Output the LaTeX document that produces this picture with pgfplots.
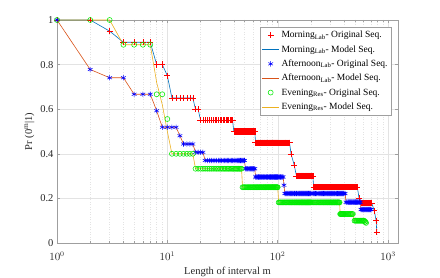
\documentclass[border=0pt]{standalone}
\usepackage{pgfplots}
\pgfplotsset{compat=1.18}
\usepackage{pgfplotstable}
\usepackage{fontspec}
\setmainfont{Liberation Serif}
\definecolor{mlblue}{RGB}{0,114,189}
\definecolor{mlorange}{RGB}{217,83,25}
\definecolor{mlyellow}{RGB}{237,177,32}
\definecolor{mkgreen}{RGB}{0,235,0}

\pgfplotstableread[row sep=\\]{
m p\\
1 1\\ 2 1\\ 3 0.95\\ 4 0.9\\ 5 0.9\\ 6 0.9\\ 7 0.9\\ 8 0.8\\ 9 0.8\\ 10 0.75\\
11 0.65\\ 12 0.65\\ 13 0.65\\ 14 0.65\\ 15 0.65\\ 16 0.65\\ 17 0.65\\ 18 0.6\\ 19 0.6\\
20 0.55\\ 21 0.55\\ 22 0.55\\ 23 0.55\\ 24 0.55\\ 25 0.55\\ 26 0.55\\ 27 0.55\\ 28 0.55\\ 29 0.55\\
30 0.55\\ 31 0.55\\ 32 0.55\\ 33 0.55\\ 34 0.55\\ 35 0.55\\ 36 0.55\\ 37 0.55\\ 38 0.55\\ 39 0.55\\
40 0.5\\ 41 0.5\\ 42 0.5\\ 43 0.5\\ 44 0.5\\ 45 0.5\\ 46 0.5\\ 47 0.5\\ 48 0.5\\ 49 0.5\\ 50 0.5\\
51 0.5\\ 52 0.5\\ 53 0.5\\ 54 0.5\\ 55 0.5\\ 56 0.5\\ 57 0.5\\ 58 0.5\\ 59 0.5\\ 60 0.5\\ 61 0.5\\ 62 0.5\\
63 0.45\\ 64 0.45\\ 65 0.45\\ 66 0.45\\ 67 0.45\\ 68 0.45\\ 69 0.45\\ 70 0.45\\ 71 0.45\\ 72 0.45\\
73 0.45\\ 74 0.45\\ 75 0.45\\ 76 0.45\\ 77 0.45\\ 78 0.45\\ 79 0.45\\ 80 0.45\\ 81 0.45\\ 82 0.45\\
83 0.45\\ 84 0.45\\ 85 0.45\\ 86 0.45\\ 87 0.45\\ 88 0.45\\ 89 0.45\\ 90 0.45\\ 91 0.45\\ 92 0.45\\
93 0.45\\ 94 0.45\\ 95 0.45\\ 96 0.45\\ 97 0.45\\ 98 0.45\\ 99 0.45\\ 100 0.45\\
102 0.45\\ 104 0.45\\ 106 0.45\\ 108 0.45\\ 110 0.45\\ 112 0.45\\ 114 0.45\\ 116 0.45\\ 118 0.45\\
120 0.45\\ 122 0.45\\ 124 0.45\\ 126 0.45\\ 128 0.45\\
132 0.4\\ 141 0.35\\
148 0.3\\ 150 0.3\\ 152 0.3\\ 154 0.3\\ 156 0.3\\ 158 0.3\\ 160 0.3\\ 162 0.3\\ 164 0.3\\ 166 0.3\\
168 0.3\\ 170 0.3\\ 172 0.3\\ 174 0.3\\ 176 0.3\\ 178 0.3\\ 180 0.3\\ 182 0.3\\ 184 0.3\\ 186 0.3\\
188 0.3\\ 190 0.3\\ 192 0.3\\ 194 0.3\\ 196 0.3\\ 198 0.3\\ 200 0.3\\ 204 0.3\\ 208 0.3\\
212 0.25\\ 216 0.25\\ 220 0.25\\ 224 0.25\\ 228 0.25\\ 232 0.25\\ 236 0.25\\ 240 0.25\\ 244 0.25\\
248 0.25\\ 252 0.25\\ 256 0.25\\ 260 0.25\\ 264 0.25\\ 268 0.25\\ 272 0.25\\ 276 0.25\\ 280 0.25\\
284 0.25\\ 288 0.25\\ 292 0.25\\ 296 0.25\\ 300 0.25\\ 304 0.25\\ 308 0.25\\ 312 0.25\\ 316 0.25\\
320 0.25\\ 324 0.25\\ 328 0.25\\ 332 0.25\\ 336 0.25\\ 340 0.25\\ 344 0.25\\ 348 0.25\\ 352 0.25\\
356 0.25\\ 360 0.25\\ 364 0.25\\ 368 0.25\\ 372 0.25\\ 376 0.25\\ 380 0.25\\ 384 0.25\\ 388 0.25\\
392 0.25\\ 396 0.25\\ 400 0.25\\ 408 0.25\\ 416 0.25\\ 424 0.25\\ 432 0.25\\ 440 0.25\\ 448 0.25\\
456 0.25\\ 464 0.25\\ 472 0.25\\ 480 0.25\\ 488 0.25\\ 496 0.25\\ 504 0.25\\ 512 0.25\\ 520 0.25\\ 527 0.25\\
546 0.2\\
576 0.18\\ 584 0.18\\ 592 0.18\\ 600 0.18\\ 608 0.18\\ 616 0.18\\ 624 0.18\\ 632 0.18\\ 640 0.18\\
648 0.18\\ 656 0.18\\ 664 0.18\\ 672 0.18\\ 680 0.18\\ 688 0.18\\ 696 0.18\\ 704 0.18\\ 710 0.18\\
750 0.145\\ 780 0.1\\ 790 0.05\\
}\morning

\pgfplotstableread[row sep=\\]{
m p\\
1 1\\ 2 0.778\\ 3 0.741\\ 4 0.741\\ 5 0.667\\ 6 0.667\\ 7 0.667\\ 8 0.593\\
9 0.519\\ 10 0.519\\ 11 0.519\\ 12 0.519\\ 13 0.481\\
14 0.444\\ 15 0.444\\ 16 0.444\\ 17 0.444\\ 18 0.407\\ 19 0.407\\ 20 0.407\\ 21 0.407\\
22 0.37\\ 23 0.37\\ 24 0.37\\ 25 0.37\\ 26 0.37\\ 27 0.37\\ 28 0.37\\ 29 0.37\\ 30 0.37\\
31 0.37\\ 32 0.37\\ 33 0.37\\ 34 0.37\\ 35 0.37\\ 36 0.37\\ 37 0.37\\ 38 0.37\\ 39 0.37\\ 40 0.37\\
41 0.37\\ 42 0.37\\ 43 0.37\\ 44 0.37\\ 45 0.37\\ 46 0.37\\ 47 0.37\\ 48 0.37\\ 49 0.37\\ 50 0.37\\
51 0.333\\ 52 0.333\\ 53 0.333\\ 54 0.333\\ 55 0.333\\ 56 0.333\\ 57 0.333\\ 58 0.333\\ 59 0.333\\
60 0.333\\ 61 0.333\\ 62 0.333\\
63 0.296\\ 64 0.296\\ 65 0.296\\ 66 0.296\\ 67 0.296\\ 68 0.296\\ 69 0.296\\ 70 0.296\\ 71 0.296\\
72 0.296\\ 73 0.296\\ 74 0.296\\ 75 0.296\\ 76 0.296\\ 77 0.296\\ 78 0.296\\ 79 0.296\\ 80 0.296\\
81 0.296\\ 82 0.296\\ 83 0.296\\ 84 0.296\\ 85 0.296\\ 86 0.296\\ 87 0.296\\ 88 0.296\\ 89 0.296\\
90 0.296\\ 91 0.296\\ 92 0.296\\ 93 0.296\\ 94 0.296\\ 95 0.296\\ 96 0.296\\ 97 0.296\\ 98 0.296\\
99 0.296\\ 100 0.296\\ 102 0.296\\ 104 0.296\\ 106 0.296\\ 108 0.296\\ 110 0.296\\ 112 0.296\\
114 0.259\\
116 0.222\\ 118 0.222\\ 120 0.222\\ 122 0.222\\ 124 0.222\\ 126 0.222\\ 128 0.222\\ 130 0.222\\
132 0.222\\ 134 0.222\\ 136 0.222\\ 138 0.222\\ 140 0.222\\ 142 0.222\\ 144 0.222\\ 146 0.222\\
148 0.222\\ 150 0.222\\ 152 0.222\\ 154 0.222\\ 156 0.222\\ 158 0.222\\ 160 0.222\\ 162 0.222\\
164 0.222\\ 166 0.222\\ 168 0.222\\ 170 0.222\\ 172 0.222\\ 174 0.222\\ 176 0.222\\ 178 0.222\\
180 0.222\\ 182 0.222\\ 184 0.222\\ 186 0.222\\ 188 0.222\\ 190 0.222\\ 192 0.222\\ 194 0.222\\
196 0.222\\ 198 0.222\\ 200 0.222\\ 204 0.222\\ 208 0.222\\ 212 0.222\\ 216 0.222\\ 220 0.222\\
224 0.222\\ 228 0.222\\ 232 0.222\\ 236 0.222\\ 240 0.222\\ 244 0.222\\ 248 0.222\\ 252 0.222\\
256 0.222\\ 260 0.222\\ 264 0.222\\ 268 0.222\\ 272 0.222\\ 276 0.222\\ 280 0.222\\ 284 0.222\\
288 0.222\\ 292 0.222\\ 296 0.222\\ 300 0.222\\ 304 0.222\\ 308 0.222\\ 312 0.222\\ 316 0.222\\
320 0.222\\ 324 0.222\\ 328 0.222\\ 332 0.222\\ 336 0.222\\ 340 0.222\\ 344 0.222\\ 348 0.222\\
352 0.222\\ 356 0.222\\ 360 0.222\\ 364 0.222\\ 368 0.222\\ 372 0.222\\ 376 0.222\\ 380 0.222\\
384 0.222\\ 388 0.222\\ 392 0.222\\ 396 0.222\\ 400 0.222\\ 408 0.222\\
416 0.183\\ 424 0.183\\ 432 0.183\\ 440 0.183\\ 448 0.183\\ 456 0.183\\ 464 0.183\\ 472 0.183\\
480 0.183\\ 488 0.183\\ 496 0.183\\ 504 0.183\\ 512 0.183\\ 520 0.183\\ 528 0.183\\ 536 0.183\\
544 0.183\\ 552 0.183\\ 560 0.183\\
568 0.15\\ 576 0.15\\ 584 0.15\\ 592 0.15\\ 600 0.15\\ 608 0.15\\ 616 0.15\\ 624 0.15\\ 632 0.15\\
640 0.15\\ 648 0.15\\ 656 0.15\\ 664 0.15\\ 672 0.15\\ 680 0.15\\ 688 0.15\\ 696 0.15\\ 700 0.15\\
}\afternoon

\pgfplotstableread[row sep=\\]{
m p\\
1 1\\ 2 1\\ 3 1\\ 4 0.889\\ 5 0.889\\ 6 0.889\\ 7 0.889\\ 8 0.667\\ 9 0.667\\ 10 0.556\\
11 0.4\\ 12 0.4\\ 13 0.4\\ 14 0.4\\ 15 0.4\\ 16 0.4\\ 17 0.4\\
18 0.333\\ 19 0.333\\ 20 0.333\\ 21 0.333\\ 22 0.333\\ 23 0.333\\ 24 0.333\\ 25 0.333\\ 26 0.333\\
27 0.333\\ 28 0.333\\ 29 0.333\\ 30 0.333\\ 31 0.333\\ 32 0.333\\ 33 0.333\\ 34 0.333\\ 35 0.333\\
36 0.333\\ 37 0.333\\ 38 0.333\\ 39 0.333\\ 40 0.333\\ 41 0.333\\ 42 0.333\\ 43 0.333\\ 44 0.333\\
45 0.333\\ 46 0.333\\ 47 0.333\\
48 0.25\\ 49 0.25\\ 50 0.25\\ 51 0.25\\ 52 0.25\\ 53 0.25\\ 54 0.25\\ 55 0.25\\ 56 0.25\\ 57 0.25\\
58 0.25\\ 59 0.25\\ 60 0.25\\ 61 0.25\\ 62 0.25\\ 63 0.25\\ 64 0.25\\ 65 0.25\\ 66 0.25\\ 67 0.25\\
68 0.25\\ 69 0.25\\ 70 0.25\\ 71 0.25\\ 72 0.25\\ 73 0.25\\ 74 0.25\\ 75 0.25\\ 76 0.25\\ 77 0.25\\
78 0.25\\ 79 0.25\\ 80 0.25\\ 81 0.25\\ 82 0.25\\ 83 0.25\\ 84 0.25\\ 85 0.25\\ 86 0.25\\ 87 0.25\\
88 0.25\\ 89 0.25\\ 90 0.25\\ 91 0.25\\ 92 0.25\\ 93 0.25\\ 94 0.25\\ 95 0.25\\ 96 0.25\\ 97 0.25\\
98 0.25\\ 99 0.25\\ 100 0.25\\
102 0.182\\ 104 0.182\\ 106 0.182\\ 108 0.182\\ 110 0.182\\ 112 0.182\\ 114 0.182\\ 116 0.182\\
118 0.182\\ 120 0.182\\ 122 0.182\\ 124 0.182\\ 126 0.182\\ 128 0.182\\ 130 0.182\\ 132 0.182\\
134 0.182\\ 136 0.182\\ 138 0.182\\ 140 0.182\\ 142 0.182\\ 144 0.182\\ 146 0.182\\ 148 0.182\\
150 0.182\\ 152 0.182\\ 154 0.182\\ 156 0.182\\ 158 0.182\\ 160 0.182\\ 162 0.182\\ 164 0.182\\
166 0.182\\ 168 0.182\\ 170 0.182\\ 172 0.182\\ 174 0.182\\ 176 0.182\\ 178 0.182\\ 180 0.182\\
182 0.182\\ 184 0.182\\ 186 0.182\\ 188 0.182\\ 190 0.182\\ 192 0.182\\ 194 0.182\\ 196 0.182\\
198 0.182\\ 200 0.182\\ 204 0.182\\ 208 0.182\\ 212 0.182\\ 216 0.182\\ 220 0.182\\ 224 0.182\\
228 0.182\\ 232 0.182\\ 236 0.182\\ 240 0.182\\ 244 0.182\\ 248 0.182\\ 252 0.182\\ 256 0.182\\
260 0.182\\ 264 0.182\\ 268 0.182\\ 272 0.182\\ 276 0.182\\ 280 0.182\\ 284 0.182\\ 288 0.182\\
292 0.182\\ 296 0.182\\ 300 0.182\\ 304 0.182\\ 308 0.182\\ 312 0.182\\ 316 0.182\\ 320 0.182\\
324 0.182\\ 328 0.182\\ 332 0.182\\ 336 0.182\\ 340 0.182\\ 344 0.182\\ 348 0.182\\ 352 0.182\\
356 0.182\\ 360 0.182\\ 364 0.182\\
368 0.13\\ 372 0.13\\ 376 0.13\\ 380 0.13\\ 384 0.13\\ 388 0.13\\ 392 0.13\\ 396 0.13\\ 400 0.13\\
408 0.13\\ 416 0.13\\ 424 0.13\\ 432 0.13\\ 440 0.13\\ 448 0.13\\ 456 0.13\\ 464 0.13\\ 472 0.13\\ 480 0.13\\
496 0.1\\ 504 0.1\\ 512 0.1\\ 520 0.1\\ 528 0.1\\ 536 0.1\\ 544 0.1\\ 552 0.1\\ 560 0.1\\ 568 0.1\\
576 0.1\\ 584 0.1\\ 592 0.1\\ 600 0.1\\ 608 0.1\\
616 0.095\\ 624 0.095\\ 632 0.09\\
}\evening

\pgfplotstableread[row sep=\\]{
m p\\
1 1\\ 3 1\\ 4 0.889\\ 7 0.889\\ 8 0.72\\ 9 0.62\\ 10 0.5\\ 11 0.4\\ 17 0.4\\ 18 0.333\\
47 0.333\\ 48 0.25\\ 100 0.25\\ 102 0.182\\ 364 0.182\\ 368 0.13\\ 480 0.13\\ 496 0.1\\
608 0.1\\ 616 0.095\\ 624 0.095\\ 632 0.09\\
}\eveningmodel

\begin{document}
\begin{tikzpicture}
\useasboundingbox (0,0) rectangle (440pt,278pt);
\begin{axis}[
  at={(57pt,35pt)}, anchor=south west,
  width=341pt, height=223pt, scale only axis,
  xmode=log, xmin=1, xmax=1230, ymin=0, ymax=1,
  xtick={1,10,100,1000},
  ytick={0,0.2,0.4,0.6,0.8,1},
  yticklabels={0,0.2,0.4,0.6,0.8,1},
  grid=both,
  major grid style={gray!22, line width=0.4pt},
  minor grid style={gray!22, line width=0.4pt, dash pattern=on 1pt off 1.5pt},
  axis line style={gray!75, line width=0.5pt},
  tick style={gray!75, line width=0.5pt},
  tick align=inside,
  major tick length=3pt, minor tick length=1.8pt,
  ticklabel style={font=\fontsize{10.5}{12}\selectfont, text=black!85},
  xticklabel style={yshift=-5pt},
  label style={font=\fontsize{10.5}{12}\selectfont, text=black!85},
  xlabel={Length of interval m},
  ylabel={Pr (0\textsuperscript{m}|1)},
  xlabel style={yshift=0pt},
  ylabel style={yshift=-1pt},
  legend cell align=left,
  legend style={at={(0.982,0.969)}, anchor=north east, draw=gray!75, fill=white,
    font=\fontsize{9.5}{11}\selectfont, inner sep=2pt, row sep=2.2pt,
    line width=0.5pt},
]
\addplot[only marks, mark=+, mark size=3.1pt, color=red, mark options={line width=0.55pt}] table[x=m,y=p] {\morning};
\addlegendentry{Morning\textsubscript{Lab}- Original Seq.}
\addplot[color=mlblue, line width=0.6pt, mark=none] table[x=m,y=p] {\morning};
\addlegendentry{Morning\textsubscript{Lab}- Model Seq.}
\addplot[only marks, mark=asterisk, mark size=2.7pt, color=blue, mark options={line width=0.55pt}] table[x=m,y=p] {\afternoon};
\addlegendentry{Afternoon\textsubscript{Lab}- Original Seq.}
\addplot[color=mlorange, line width=0.6pt, mark=none] table[x=m,y=p] {\afternoon};
\addlegendentry{Afternoon\textsubscript{Lab}- Model Seq.}
\addplot[only marks, mark=o, mark size=2.5pt, color=mkgreen, mark options={line width=0.55pt}] table[x=m,y=p] {\evening};
\addlegendentry{Evening\textsubscript{Res}- Original Seq.}
\addplot[color=mlyellow, line width=0.6pt, mark=none] table[x=m,y=p] {\eveningmodel};
\addlegendentry{Evening\textsubscript{Res}- Model Seq.}
\end{axis}
\end{tikzpicture}
\end{document}
